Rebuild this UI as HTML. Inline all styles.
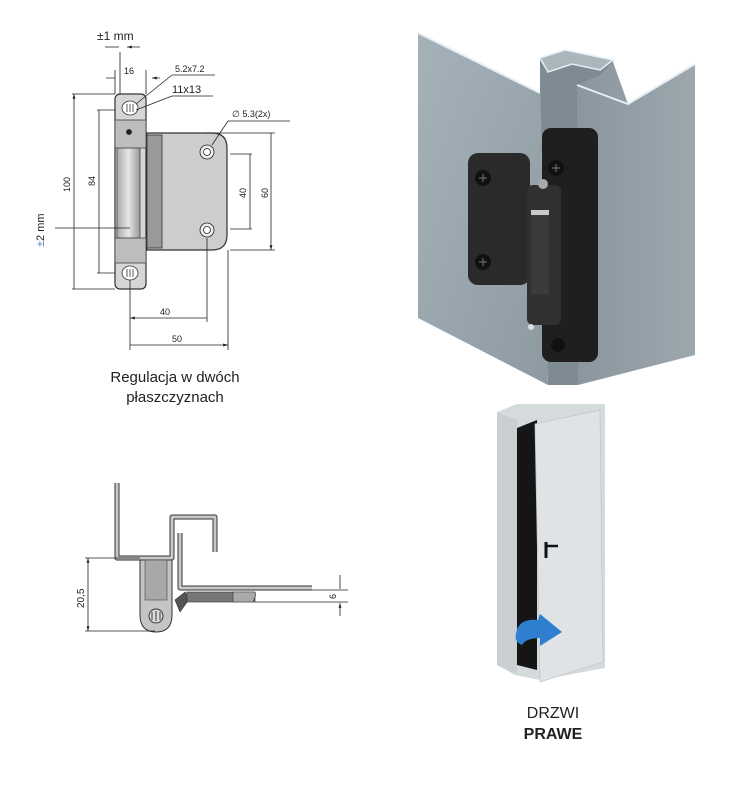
<!DOCTYPE html>
<html><head><meta charset="utf-8"><style>
html,body{margin:0;padding:0;background:#fff;}
svg{display:block;font-family:"Liberation Sans",sans-serif;}
</style></head><body>
<svg width="749" height="798" viewBox="0 0 749 798" xmlns="http://www.w3.org/2000/svg">
<defs>
<marker id="a" viewBox="0 0 10 10" refX="10" refY="5" markerWidth="6" markerHeight="6" orient="auto-start-reverse"><path d="M0,2 L10,5 L0,8z" fill="#222"/></marker>
<linearGradient id="bar" x1="0" x2="1"><stop offset="0" stop-color="#aaa"/><stop offset=".5" stop-color="#e6e6e6"/><stop offset="1" stop-color="#999"/></linearGradient>
<linearGradient id="lp" x1="0" x2="1" y1="0" y2="1"><stop offset="0" stop-color="#a6b2ba"/><stop offset="1" stop-color="#8e9aa2"/></linearGradient>
<linearGradient id="rp" x1="0" x2="1"><stop offset="0" stop-color="#8b969e"/><stop offset="1" stop-color="#9ca7ae"/></linearGradient>
</defs>

<!-- TOP-LEFT DRAWING -->
<g stroke="#222" stroke-width="0.8" fill="none">
 <path d="M147,133 H212 Q227,133 227,148 V235 Q227,250 212,250 H147 Z" fill="#cdcdcd" stroke="#333" stroke-width="1.2"/>
 <rect x="147" y="135" width="15" height="113" fill="#9a9a9a" stroke="#333"/>
 <circle cx="207" cy="152" r="7" fill="#eee"/><circle cx="207" cy="152" r="3.5" fill="#fff"/>
 <circle cx="207" cy="230" r="7" fill="#eee"/><circle cx="207" cy="230" r="3.5" fill="#fff"/>
 <rect x="115" y="94" width="31" height="195" rx="5" fill="#d6d6d6" stroke="#333" stroke-width="1.2"/>
 <rect x="117" y="148" width="23" height="90" fill="url(#bar)" stroke="#444"/>
 <rect x="115" y="120" width="31" height="28" fill="#bdbdbd" stroke="#444"/>
 <rect x="115" y="238" width="31" height="25" fill="#bdbdbd" stroke="#444"/>
 <circle cx="129" cy="132" r="2.5" fill="#222"/>
 <ellipse cx="130" cy="108" rx="8" ry="7" fill="#fff" stroke="#333"/>
 <ellipse cx="130" cy="273" rx="8" ry="7" fill="#fff" stroke="#333"/>
 <path d="M127,104v8M130,104v8M133,104v8M127,269v8M130,269v8M133,269v8" stroke="#333"/>
 <path d="M72,94H115M72,289H115M97,110H115M97,273H115M205,133H275M230,154H252M230,229H252M230,250H275"/>
 <path d="M74,94V289M99,110V273M250,154V229M271,133V250" marker-start="url(#a)" marker-end="url(#a)"/>
 <path d="M130,280V350M207,238V322M228,250V350"/>
 <path d="M130,318H207M130,345H228" marker-start="url(#a)" marker-end="url(#a)"/>
 <path d="M115,70V94M146,70V94M120,52V94"/>
 <path d="M106,78H115M160,78H152" marker-end="url(#a)"/>
 <path d="M105,47H119M140,47H127" marker-end="url(#a)"/>
 <path d="M172,75H215M136,104L172,75M172,96H213M136,110L172,96M228,121H290M212,145L228,121M55,228H130"/>
</g>
<g fill="#222" font-size="9">
 <text x="97" y="40" font-size="12">±1 mm</text>
 <text x="124" y="74">16</text>
 <text x="175" y="72">5.2x7.2</text>
 <text x="172" y="93" font-size="11">11x13</text>
 <text x="232" y="117">∅ 5.3(2x)</text>
 <text x="160" y="315">40</text><text x="172" y="342">50</text>
 <text transform="translate(70,192) rotate(-90)">100</text>
 <text transform="translate(95,186) rotate(-90)">84</text>
 <text transform="translate(246,198) rotate(-90)">40</text>
 <text transform="translate(268,198) rotate(-90)">60</text>
 <text transform="translate(44,247) rotate(-90)" font-size="11"><tspan fill="#4a7abf">±</tspan>2 mm</text>
</g>
<text x="175" y="382" font-size="15" text-anchor="middle" fill="#222">Regulacja w dwóch</text>
<text x="175" y="402" font-size="15" text-anchor="middle" fill="#222">płaszczyznach</text>

<!-- TOP-RIGHT RENDER -->
<polygon points="540,58 613,60 613,100 578,385 548,385 540,93" fill="#7f8b93"/>
<polygon points="540,58 565,50 613,60 600,70 572,64 548,72" fill="#aab5bc" stroke="#e4eef4" stroke-width="1.5"/>
<polygon points="418,33 540,93 548,385 418,318" fill="url(#lp)"/>
<polygon points="577,85 600,75 613,62 628,104 695,64 695,355 578,385" fill="url(#rp)"/>
<polyline points="418,33 540,93" fill="none" stroke="#e4eef4" stroke-width="2"/>
<polyline points="577,85 628,104 695,64" fill="none" stroke="#e4eef4" stroke-width="2"/>
<rect x="468" y="153" width="62" height="132" rx="10" fill="#2a2a2a"/>
<rect x="542" y="128" width="56" height="234" rx="9" fill="#1f1f1f"/>
<rect x="527" y="185" width="34" height="140" rx="6" fill="#303030"/>
<rect x="531" y="212" width="18" height="82" fill="#3b3b3b"/>
<rect x="531" y="210" width="18" height="5" fill="#ccc"/>
<circle cx="543" cy="184" r="5" fill="#aaa"/><circle cx="531" cy="327" r="3" fill="#ddd"/>
<g fill="#111"><circle cx="483" cy="178" r="8"/><circle cx="483" cy="262" r="8"/><circle cx="556" cy="168" r="8"/><circle cx="558" cy="345" r="7"/></g>
<g stroke="#777" stroke-width="1"><path d="M479,178h8M483,174v8M479,262h8M483,258v8M552,168h8M556,164v8"/></g>

<!-- BOTTOM-LEFT DRAWING -->
<g fill="none" stroke-linejoin="round">
 <path d="M117,483V558H172V517H215V552" stroke="#333" stroke-width="5"/>
 <path d="M117,483V558H172V517H215V552" stroke="#c8c8c8" stroke-width="3"/>
 <path d="M180,533V588H312" stroke="#333" stroke-width="5"/>
 <path d="M180,533V588H312" stroke="#c8c8c8" stroke-width="3"/>
</g>
<path d="M140,560H172V615Q172,632 156,632Q140,632 140,615Z" fill="#c4c4c4" stroke="#333"/>
<rect x="145" y="560" width="22" height="40" fill="#a8a8a8" stroke="#444" stroke-width=".6"/>
<circle cx="156" cy="616" r="7" fill="#ddd" stroke="#333"/>
<path d="M152,612v8M156,611v10M160,612v8" stroke="#333"/>
<polygon points="175,600 185,592 190,598 180,612" fill="#555" stroke="#333" stroke-width=".6"/>
<rect x="187" y="592" width="68" height="10" fill="#777" stroke="#333" stroke-width=".6"/>
<path d="M233,592h20q4,0 2,5l-2,5h-20z" fill="#aaa" stroke="#333" stroke-width=".6"/>
<g stroke="#222" stroke-width=".8" fill="none">
 <path d="M85,558H140M85,631H155M312,590H348M255,602H348"/>
 <path d="M88,558V631" marker-start="url(#a)" marker-end="url(#a)"/>
 <path d="M340,575V589M340,616V603" marker-end="url(#a)"/>
</g>
<text transform="translate(84,608) rotate(-90)" font-size="10" fill="#222">20,5</text>
<text transform="translate(336,599) rotate(-90)" font-size="9" fill="#222">6</text>

<!-- CABINET -->
<polygon points="497,412 517,404 605,404 605,668 540,680 515,675 497,665" fill="#d5dadd"/>
<polygon points="497,412 517,420 517,675 497,665" fill="#c9cfd3"/>
<polygon points="517,428 537,420 537,670 517,665" fill="#151515"/>
<polygon points="535,424 600,410 603,662 540,682" fill="#dfe3e6" stroke="#c0c6ca" stroke-width=".8"/>
<path d="M546,542v16" stroke="#111" stroke-width="3"/><path d="M546,546h12" stroke="#111" stroke-width="2.5"/>
<path d="M516,634 Q518,618 538,620 L540,614 L562,632 L540,646 L540,638 Q526,638 522,645 Q514,642 516,634Z" fill="#2f7fd0"/>
<text x="553" y="718" font-size="16" text-anchor="middle" fill="#222">DRZWI</text>
<text x="553" y="739" font-size="16" font-weight="bold" text-anchor="middle" fill="#222">PRAWE</text>
</svg>
</body></html>
